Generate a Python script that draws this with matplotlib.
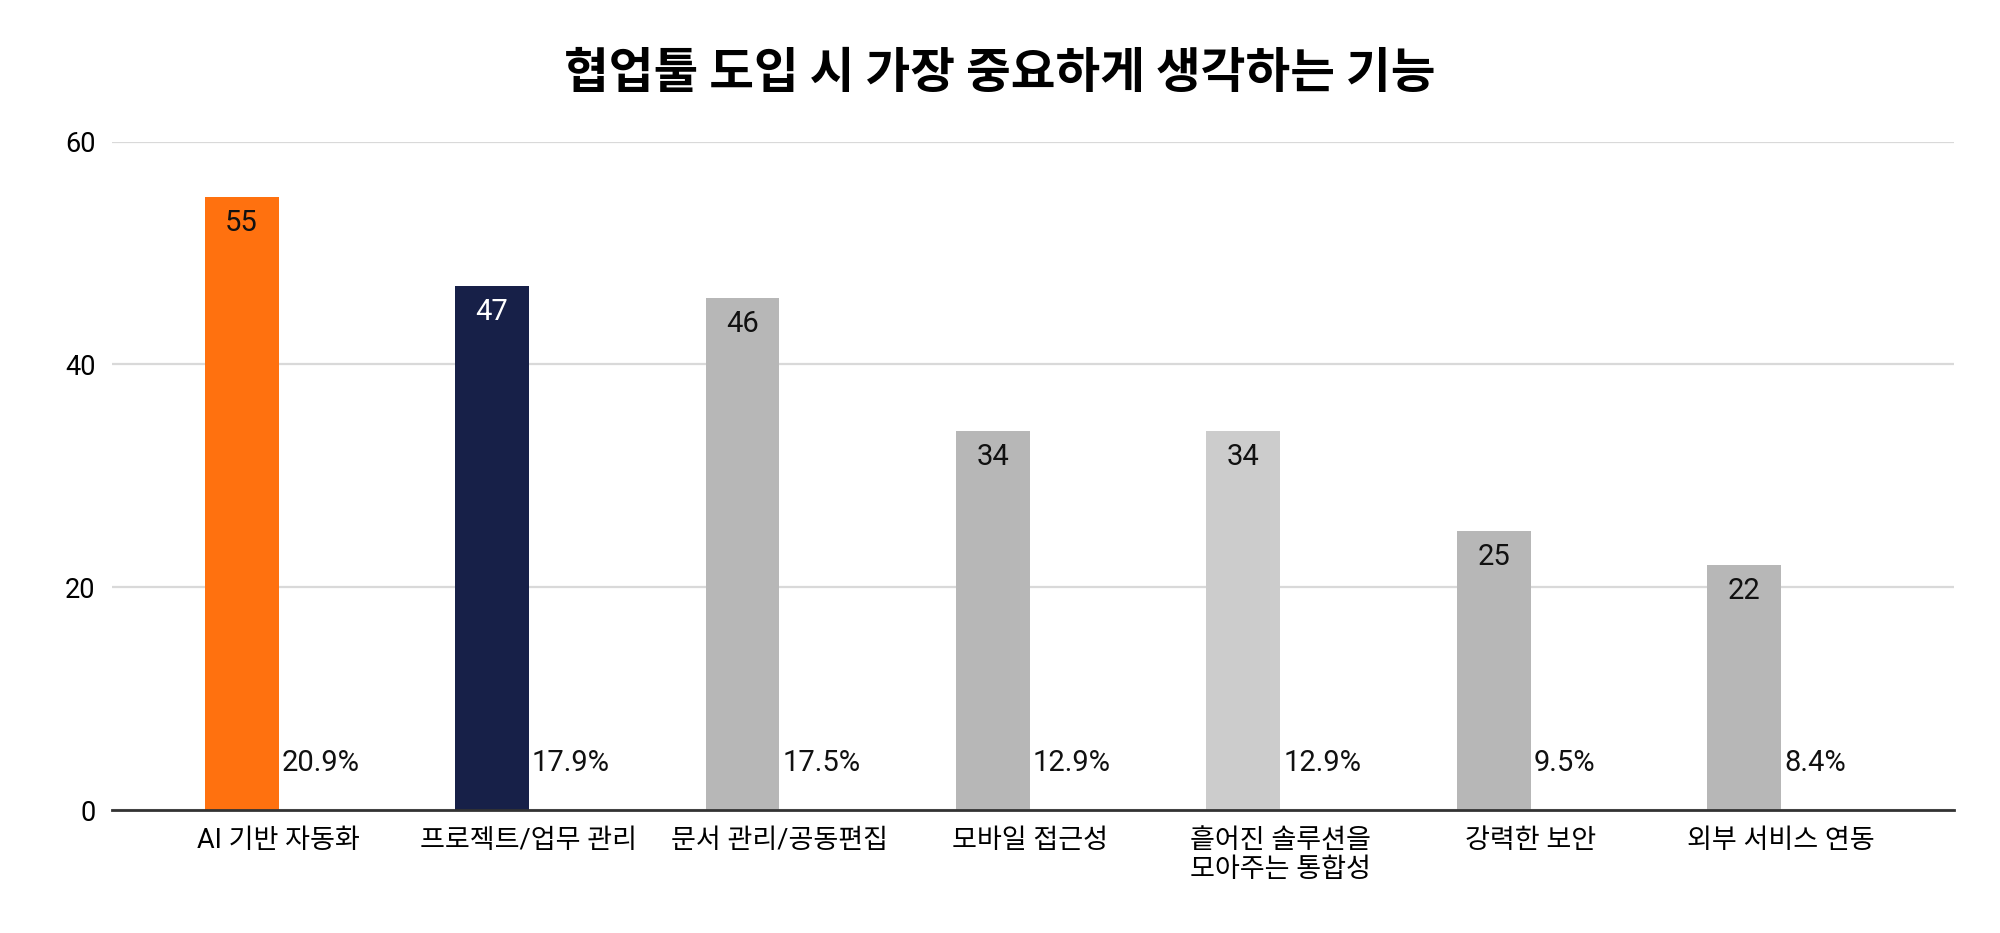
import matplotlib
matplotlib.use("Agg")
import matplotlib.pyplot as plt
import numpy as np

plt.rcParams['font.family'] = ['Roboto', 'Noto Sans CJK KR', 'DejaVu Sans']

# data
categories = ['AI 기반 자동화', '프로젝트/업무 관리', '문서 관리/공동편집', '모바일 접근성',
              '흩어진 솔루션을\n모아주는 통합성', '강력한 보안', '외부 서비스 연동']
counts = [55, 47, 46, 34, 34, 25, 22]
shares = ['20.9%', '17.9%', '17.5%', '12.9%', '12.9%', '9.5%', '8.4%']

bar_colors = ['#FF710F', '#172048', '#B7B7B7', '#B7B7B7', '#CCCCCC', '#B7B7B7', '#B7B7B7']
label_colors = ['#111111', '#FFFFFF', '#111111', '#111111', '#111111', '#111111', '#111111']

fig = plt.figure(figsize=(20, 9.33), dpi=100)
ax = fig.add_axes([0.056, 0.1318, 0.921, 0.7165])

x = np.arange(len(categories))
w = 0.295
ax.bar(x - w / 2, counts, width=w, color=bar_colors, zorder=3)

for i, (c, s) in enumerate(zip(counts, shares)):
    ax.annotate(str(c), xy=(i - w / 2, c), xytext=(0, -26), textcoords='offset pixels',
                ha='center', va='center', fontsize=21, color=label_colors[i], zorder=4)
    ax.annotate(s, xy=(i, 0), xytext=(3, 47), textcoords='offset pixels',
                ha='left', va='center', fontsize=21, color='#111111', zorder=4)

ax.set_ylim(0, 60)
ax.set_xlim(-0.665, 6.69)
ax.set_yticks([0, 20, 40, 60])
ax.set_xticks(x)
ax.set_xticklabels(categories, fontsize=19.5, linespacing=1.1)
ax.tick_params(axis='y', length=0, pad=12, labelsize=19.5)
ax.tick_params(axis='x', length=0, pad=12)
ax.grid(axis='y', color='#D9D9D9', linewidth=1.6, zorder=0)
for side in ['left', 'right', 'top']:
    ax.spines[side].set_visible(False)
ax.spines['bottom'].set_color('#333333')
ax.spines['bottom'].set_linewidth(2)
ax.spines['bottom'].set_zorder(5)

fig.text(0.5, 0.921, '협업툴 도입 시 가장 중요하게 생각하는 기능', ha='center', va='center',
         fontsize=35, fontweight='bold', family=['Noto Sans CJK KR', 'DejaVu Sans'])

fig.savefig('out.png', dpi=100, facecolor='white')
